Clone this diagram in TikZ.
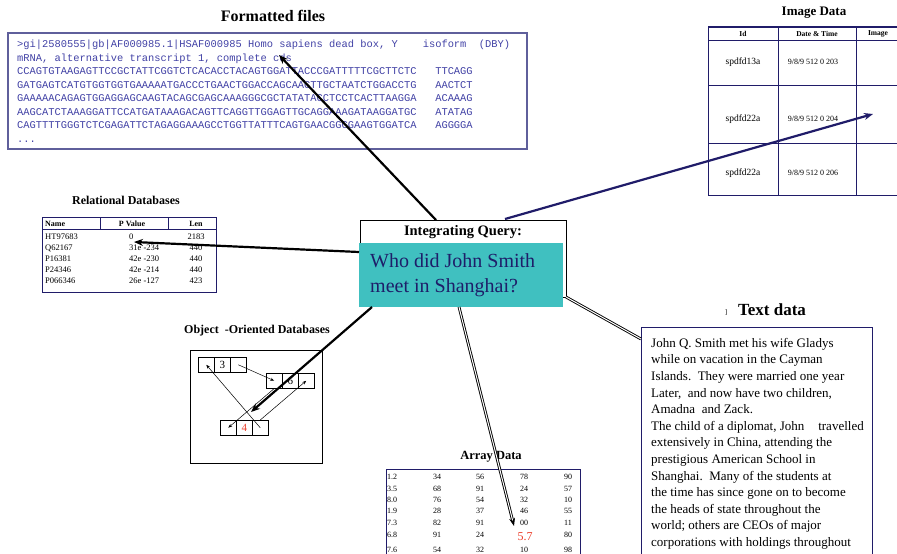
\documentclass[tikz,border=0pt]{standalone}
\usepackage{fontspec}
\setmainfont{Liberation Serif}
\setmonofont{Liberation Mono}
\usetikzlibrary{arrows.meta, positioning}

\definecolor{navy}{RGB}{32,28,105}
\definecolor{framecol}{RGB}{95,95,155}
\definecolor{seqcol}{RGB}{65,65,165}
\definecolor{qteal}{RGB}{64,192,192}
\definecolor{qtext}{RGB}{30,30,105}
\definecolor{hitred}{RGB}{235,60,40}

\tikzset{
  paneltitle/.style={font=\bfseries\fontsize{#1}{#1}\selectfont},
  celltext/.style={font=\fontsize{#1}{#1}\selectfont},
  cellhead/.style={font=\bfseries\fontsize{#1}{#1}\selectfont},
  cellbox/.style={draw, line width=0.5pt, minimum width=16pt, minimum height=15pt},
  oolink/.style={-{Stealth[length=4pt, width=3pt]}, line width=0.5pt},
  bigarrow/.style={-{Stealth[length=9pt, width=7pt]}, line width=2.2pt},
  pipe/.style={double=white, double distance=1pt, line width=0.9pt},
}

\begin{document}
\begin{tikzpicture}[x=1pt, y=-1pt, every node/.style={inner sep=0pt}]
  \useasboundingbox (0,0) rectangle (897,554);

  % formatted files
  \node[paneltitle=16] (fmtTitle) at (273,16) {Formatted files};
  \draw[framecol, line width=1.6pt] (8,33) rectangle (527,149);
  \node[anchor=north west, align=left, text=seqcol, font=\fontsize{10.4}{13.5}\ttfamily] (fmtText) at (17,40) {%
    >gi|2580555|gb|AF000985.1|HSAF000985 Homo sapiens dead box, Y\ \ \ \ isoform\ \ (DBY)\\
    mRNA, alternative transcript 1, complete cds\\
    CCAGTGTAAGAGTTCCGCTATTCGGTCTCACACCTACAGTGGATTACCCGATTTTTCGCTTCTC\ \ \ TTCAGG\\
    GATGAGTCATGTGGTGGTGAAAAATGACCCTGAACTGGACCAGCAACTTGCTAATCTGGACCTG\ \ \ AACTCT\\
    GAAAAACAGAGTGGAGGAGCAAGTACAGCGAGCAAAGGGCGCTATATACCTCCTCACTTAAGGA\ \ \ ACAAAG\\
    AAGCATCTAAAGGATTCCATGATAAAGACAGTTCAGGTTGGAGTTGCAGGAAAGATAAGGATGC\ \ \ ATATAG\\
    CAGTTTTGGGTCTCGAGATTCTAGAGGAAAGCCTGGTTATTTCAGTGAACGGGGAAGTGGATCA\ \ \ AGGGGA\\
    ...};

  % image data
  \node[paneltitle=13] (imgTitle) at (814,13) {Image Data};
  \draw[navy, line width=1.6pt] (708,27) -- (905,27);
  \draw[navy, line width=0.8pt] (708,27) -- (708,195) -- (905,195)
    (778,27) -- (778,195) (856,27) -- (856,195)
    (708,40) -- (905,40) (708,85) -- (905,85) (708,143) -- (905,143);
  \node[cellhead=7.5] (imgId) at (743,33.5) {Id};
  \node[cellhead=7.5] (imgStamp) at (817,33.5) {Date \& Time};
  \node[cellhead=7.5] (imgPic) at (878,33.5) {Image};
  \node[celltext=9.5] (imgRowA) at (743,62) {spdfd13a};
  \node[celltext=9.5] (imgRowB) at (743,119) {spdfd22a};
  \node[celltext=9.5] (imgRowC) at (743,173) {spdfd22a};
  \node[celltext=8] (stampA) at (813,62) {9/8/9 512 0 203};
  \node[celltext=8] (stampB) at (813,119) {9/8/9 512 0 204};
  \node[celltext=8] (stampC) at (813,173) {9/8/9 512 0 206};

  % relational databases
  \node[paneltitle=12] (relTitle) at (126,200) {Relational Databases};
  \draw[navy, line width=0.8pt] (42,217) rectangle (216,292)
    (42,229) -- (216,229) (100,217) -- (100,229) (168,217) -- (168,229);
  \node[cellhead=8, anchor=west] (relName) at (45,223.5) {Name};
  \node[cellhead=8] (relPval) at (132,223.5) {P Value};
  \node[cellhead=8] (relLen) at (196,223.5) {Len};
  \foreach \yy/\nm/\pv/\ln in {237/HT97683/0/2183, 248/Q62167/31e -234/440,
      259/P16381/42e -230/440, 270/P24346/42e -214/440, 281/P066346/26e -127/423} {
    \node[celltext=8.5, anchor=west] at (45,\yy) {\nm};
    \node[celltext=8.5, anchor=west] at (129,\yy) {\pv};
    \node[celltext=8.5] at (196,\yy) {\ln};
  }

  % integrating query
  \node[draw, line width=0.8pt, minimum width=206pt, minimum height=77pt, anchor=north west] (query) at (360,220) {};
  \node[paneltitle=14.5] (queryTitle) at (463,232) {Integrating Query:};
  \node[fill=qteal, minimum width=204pt, minimum height=64pt, anchor=north west] (question) at (359,243) {};
  \node[anchor=north west, align=left, text=qtext, font=\fontsize{20}{25}\selectfont] (questionText) at (370,253) {Who did John Smith\\meet in Shanghai?};

  % object-oriented databases
  \node[paneltitle=12] (oodbTitle) at (257,331) {Object\ \ -Oriented Databases};
  \draw[line width=0.8pt] (190,350) rectangle (322,463);
  \foreach \nm/\x/\y in {recA/198/357, recB/266/373, recC/220/420} {
    \foreach \c in {1,2,3}
      \node[cellbox, anchor=north west] (\nm\c) at ({\x+(\c-1)*16},\y) {};
  }
  \node[celltext=11] at (recA2) {3};
  \node[celltext=11] at (recB2) {6};
  \node[celltext=11, text=hitred] at (recC2) {4};
  \draw[oolink] (recA3.center) -- (recB1.center);
  \draw[oolink] (recB1.south) -- (recC1.center);
  \draw[oolink] (recC3.center) -- (recA1.center);
  \draw[oolink] (recC3.north) -- (recB3.center);

  % array data
  \node[paneltitle=12.5] (arrTitle) at (491,457) {Array Data};
  \draw[navy, line width=0.8pt] (386,560) -- (386,469) -- (580,469) -- (580,560);
  \foreach \yy/\a/\b/\c/\d/\e in {477/1.2/34/56/78/90, 489/3.5/68/91/24/57,
      500/8.0/76/54/32/10, 511/1.9/28/37/46/55, 523/7.3/82/91/00/11,
      535/6.8/91/24//80, 550/7.6/54/32/10/98} {
    \node[celltext=8, anchor=west] at (387,\yy) {\a};
    \node[celltext=8] at (437,\yy) {\b};
    \node[celltext=8] at (480,\yy) {\c};
    \node[celltext=8] at (524,\yy) {\d};
    \node[celltext=8] at (568,\yy) {\e};
  }
  \node[celltext=12, text=hitred] (hitVal) at (525,537) {5.7};

  % text data
  \node[paneltitle=17] (txtTitle) at (772,310) {Text data};
  \node[celltext=7] (txtMark) at (726,313) {]};
  \draw[navy, line width=0.8pt] (641,560) -- (641,327) -- (872,327) -- (872,560);
  \node[anchor=north west, align=left, font=\fontsize{13}{16.6}\selectfont] (txtBody) at (651,338) {%
    John Q. Smith met his wife Gladys\\
    while on vacation in the Cayman\\
    Islands.\ \ They were married one year\\
    Later,\ \ and now have two children,\\
    Amadna\ \ and Zack.\\
    The child of a diplomat, John\hspace{14pt}travelled\\
    extensively in China, attending the\\
    prestigious American School in\\
    Shanghai.\ \ Many of the students at\\
    the time has since gone on to become\\
    the heads of state throughout the\\
    world; others are CEOs of major\\
    corporations with holdings throughout};

  % connectors from the query
  \coordinate (qFmt) at (436,220);
  \coordinate (qImg) at (505,219);
  \coordinate (qRel) at (359,252);
  \coordinate (qObj) at (372,307);
  \coordinate (qArr) at (459,307);
  \coordinate (qTxt) at (566,297);
  \coordinate (fmtTip) at (279,55);
  \coordinate (imgTip) at (873,114);
  \coordinate (relTip) at (134,242);
  \coordinate (oodbTip) at (251,412);
  \coordinate (arrTip) at (514,526);
  \coordinate (txtEnd) at (641,339);

  \draw[bigarrow] (qFmt) -- (fmtTip);
  \draw[bigarrow, navy] (qImg) -- (imgTip);
  \draw[bigarrow] (qRel) -- (relTip);
  \draw[bigarrow] (qObj) -- (oodbTip);
  \draw[pipe, -{Stealth[length=8pt, width=6pt]}] (qArr) -- (arrTip);
  \draw[pipe] (qTxt) -- (txtEnd);
\end{tikzpicture}
\end{document}
